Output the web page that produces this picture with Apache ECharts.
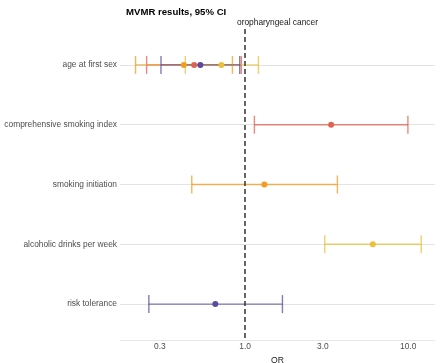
<!DOCTYPE html>
<html><head><meta charset="utf-8">
<script src="https://cdn.jsdelivr.net/npm/echarts@6/dist/echarts.min.js"></script>
<style>html,body{margin:0;padding:0;background:#fff}#c{width:440px;height:363px}</style>
</head><body><div id="c"></div>
<script>
// Categories (top to bottom)
const categories = ['age at first sex', 'comprehensive smoking index', 'smoking initiation', 'alcoholic drinks per week', 'risk tolerance'];
// X tick labels (odds ratio, log scale)
const xTicks = [0.3, 1, 3, 10];

// Series: rows, OR estimates, lower and upper 95% CI
const csiRows = ['age at first sex', 'comprehensive smoking index'];
const csiOR = [0.487, 3.37];
const csiLo = [0.249, 1.14];
const csiHi = [0.949, 9.96];

const siRows = ['age at first sex', 'smoking initiation'];
const siOR = [0.421, 1.313];
const siLo = [0.213, 0.471];
const siHi = [0.836, 3.68];

const alcRows = ['age at first sex', 'alcoholic drinks per week'];
const alcOR = [0.716, 6.07];
const alcLo = [0.430, 3.08];
const alcHi = [1.207, 12.02];

const rtRows = ['age at first sex', 'risk tolerance'];
const rtOR = [0.532, 0.657];
const rtLo = [0.305, 0.257];
const rtHi = [0.927, 1.694];

const groups = [
  {rows: csiRows, or: csiOR, lo: csiLo, hi: csiHi, color: '#DD6450'},
  {rows: siRows, or: siOR, lo: siLo, hi: siHi, color: '#F29D22'},
  {rows: alcRows, or: alcOR, lo: alcLo, hi: alcHi, color: '#EBC03C'},
  {rows: rtRows, or: rtOR, lo: rtLo, hi: rtHi, color: '#5C4B9D'}
];

const L = Math.log10;
const FONT = 'Liberation Sans, Arial, sans-serif';

function barSeries(g) {
  return {
    type: 'custom',
    z: 2,
    data: g.rows.map((r, i) => [L(g.or[i]), categories.indexOf(r) + 1, L(g.lo[i]), L(g.hi[i])]),
    encode: {x: [0, 2, 3], y: 1},
    renderItem: function (params, api) {
      const y = api.value(1);
      const a = api.coord([api.value(2), y]);
      const b = api.coord([api.value(3), y]);
      const h = 9;
      const st = {stroke: g.color, lineWidth: 1.4, opacity: 0.75};
      return {type: 'group', children: [
        {type: 'line', shape: {x1: a[0], y1: a[1], x2: b[0], y2: b[1]}, style: st},
        {type: 'line', shape: {x1: a[0], y1: a[1] - h, x2: a[0], y2: a[1] + h}, style: st},
        {type: 'line', shape: {x1: b[0], y1: b[1] - h, x2: b[0], y2: b[1] + h}, style: st}
      ]};
    }
  };
}
function pointSeries(g) {
  return {
    type: 'scatter',
    z: 3,
    symbolSize: 6,
    itemStyle: {color: g.color, opacity: 1},
    data: g.rows.map((r, i) => [L(g.or[i]), categories.indexOf(r) + 1])
  };
}

const series = [];
groups.forEach(g => series.push(barSeries(g)));
groups.forEach(g => series.push(pointSeries(g)));
series.push({
  type: 'custom', z: 4, data: [], renderItem: () => null,
  markLine: {
    silent: true, symbol: 'none', label: {show: false},
    lineStyle: {color: '#333', type: [5, 3], width: 1.5},
    data: [{xAxis: 0}]
  }
});

const yIdx = categories.map((c, i) => i + 1);

const chart = echarts.init(document.getElementById('c'), null, {renderer: 'canvas'});
chart.setOption({
  animation: false,
  textStyle: {fontFamily: FONT},
  title: {
    text: 'MVMR results, 95% CI', left: 121, top: 2,
    textStyle: {fontSize: 9.6, fontWeight: 'bold', color: '#000', fontFamily: FONT}
  },
  graphic: [{
    type: 'text', x: 277.5, y: 23,
    style: {text: 'oropharyngeal cancer', fontSize: 8.4, fill: '#1a1a1a', fontFamily: FONT, align: 'center', verticalAlign: 'middle'}
  }],
  grid: {left: 120, right: 5, top: 29, height: 311, containLabel: false, outerBoundsMode: 'none'},
  xAxis: {
    type: 'value', min: L(0.171), max: L(14.6),
    name: 'OR', nameLocation: 'middle', nameGap: 12,
    nameTextStyle: {fontSize: 8.6, color: '#1a1a1a', fontFamily: FONT},
    axisLine: {show: true, lineStyle: {color: '#e6e6e6', width: 1}},
    axisTick: {show: false},
    splitLine: {show: false},
    axisLabel: {
      customValues: xTicks.map(L), margin: 3, fontSize: 8.4, color: '#4d4d4d', fontFamily: FONT,
      formatter: v => Math.pow(10, v).toFixed(1)
    }
  },
  yAxis: {
    type: 'value', min: 0.4, max: 5.6, inverse: true,
    axisLine: {show: false},
    axisTick: {show: false, customValues: yIdx},
    splitLine: {show: true, lineStyle: {color: '#e3e3e3', width: 1}},
    axisLabel: {
      customValues: yIdx, margin: 3, fontSize: 8.4, color: '#4d4d4d', fontFamily: FONT,
      formatter: v => categories[Math.round(v) - 1]
    }
  },
  series: series
});
</script></body></html>
